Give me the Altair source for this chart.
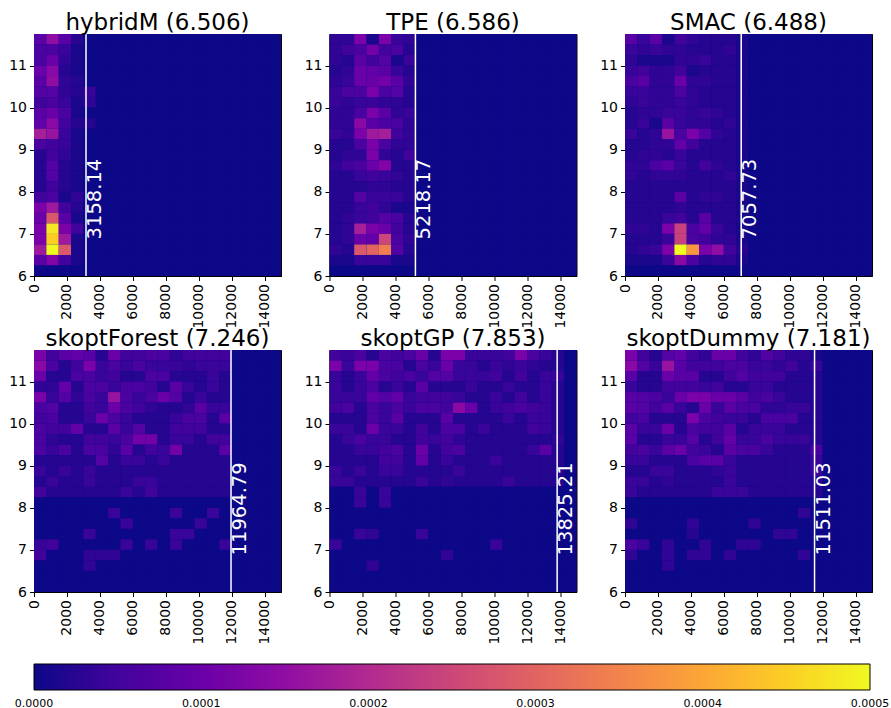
import altair as alt
import pandas as pd

names = ["hybridM", "TPE", "SMAC", "skoptForest", "skoptGP", "skoptDummy"]
scores = ["6.506", "6.586", "6.488", "7.246", "7.853", "7.181"]
cutoffs = [3158.14, 5218.17, 7057.73, 11964.79, 13825.21, 11511.03]

x_ticks = [0, 2000, 4000, 6000, 8000, 10000, 12000, 14000]
y_ticks = [6, 7, 8, 9, 10, 11]
cbar_ticks = [0.0, 0.0001, 0.0002, 0.0003, 0.0004, 0.0005]

x_bin_width = 750
y_bin_height = 0.25
n_cols = 20
y_top = 11.75

# densities in units of 1e-5; rows from top (11.50-11.75) down to bottom (6.00-6.25);
# columns from x=0 in steps of 750 (remaining columns are empty)
hybridM = [
    [8, 15, 8, 2, 0],
    [6, 6, 4, 1, 0],
    [6, 10, 3, 1, 0],
    [10, 14, 2, 1, 0],
    [8, 15, 3, 2, 0],
    [7, 7, 3, 2, 4],
    [5, 6, 4, 1, 3],
    [8, 10, 6, 1, 0],
    [9, 14, 5, 2, 2],
    [18, 16, 4, 1, 0],
    [6, 5, 4, 1, 0],
    [2, 5, 3, 1, 0],
    [2, 7, 2, 1, 0],
    [2, 7, 2, 1, 0],
    [2, 5, 2, 1, 0],
    [5, 6, 1, 3, 0],
    [12, 17, 5, 2, 0],
    [10, 28, 8, 1, 0],
    [12, 48, 12, 5, 0],
    [12, 45, 17, 1, 0],
    [17, 50, 28, 1, 0],
    [8, 13, 5, 1, 0],
    [0, 0, 0, 0, 0],
]

TPE = [
    [3, 3, 12, 1, 12, 4, 3],
    [3, 5, 6, 11, 5, 6, 2],
    [3, 2, 8, 5, 7, 1, 4],
    [2, 3, 10, 9, 8, 4, 2],
    [3, 4, 10, 10, 11, 8, 3],
    [4, 6, 6, 12, 6, 7, 2],
    [4, 3, 4, 4, 3, 3, 2],
    [3, 3, 6, 12, 8, 3, 4],
    [3, 3, 14, 8, 6, 6, 3],
    [4, 3, 12, 17, 18, 5, 3],
    [2, 2, 6, 12, 6, 3, 3],
    [2, 3, 3, 12, 3, 2, 5],
    [3, 5, 6, 10, 13, 2, 2],
    [2, 2, 4, 5, 4, 3, 2],
    [2, 2, 2, 3, 3, 2, 2],
    [2, 2, 7, 4, 4, 4, 2],
    [2, 2, 4, 5, 3, 1, 1],
    [2, 3, 4, 5, 7, 6, 2],
    [2, 3, 18, 12, 10, 5, 2],
    [2, 3, 10, 9, 25, 6, 3],
    [3, 2, 28, 30, 34, 7, 2],
    [1, 1, 4, 4, 4, 1, 1],
    [0, 0, 0, 0, 0, 0, 0],
]

SMAC = [
    [8, 4, 8, 1, 5, 3, 2, 2, 2, 1],
    [4, 3, 4, 3, 3, 2, 2, 2, 3, 1],
    [3, 1, 1, 1, 3, 3, 4, 2, 2, 1],
    [4, 5, 3, 3, 5, 1, 2, 2, 2, 1],
    [6, 8, 3, 3, 10, 3, 3, 2, 2, 1],
    [4, 4, 3, 3, 6, 3, 2, 2, 2, 1],
    [3, 4, 3, 3, 4, 3, 2, 2, 2, 1],
    [2, 3, 3, 4, 4, 3, 4, 3, 2, 1],
    [2, 4, 1, 8, 4, 3, 3, 2, 3, 1],
    [4, 2, 3, 16, 6, 12, 7, 3, 2, 1],
    [2, 2, 3, 3, 9, 5, 2, 2, 2, 1],
    [2, 3, 3, 2, 4, 2, 2, 2, 2, 1],
    [3, 3, 6, 8, 4, 2, 5, 3, 2, 1],
    [3, 2, 3, 3, 3, 2, 2, 2, 3, 1],
    [2, 2, 2, 2, 2, 2, 2, 2, 2, 1],
    [2, 2, 2, 2, 8, 2, 3, 3, 2, 1],
    [2, 2, 2, 2, 3, 2, 2, 2, 2, 1],
    [2, 2, 2, 4, 5, 2, 8, 2, 2, 1],
    [3, 3, 2, 12, 24, 6, 9, 4, 2, 1],
    [2, 2, 2, 4, 24, 6, 5, 3, 3, 1],
    [2, 3, 4, 12, 50, 38, 12, 15, 5, 2],
    [1, 1, 1, 4, 14, 6, 2, 3, 3, 1],
    [0, 0, 0, 0, 0, 0, 0, 0, 0, 0],
]

skoptForest = [
    [12, 5, 8, 9, 8, 2, 10, 5, 5, 6, 6, 3, 5, 5, 5, 5],
    [14, 6, 2, 5, 12, 4, 6, 4, 6, 4, 4, 4, 3, 4, 4, 4],
    [10, 2, 2, 6, 6, 4, 5, 2, 2, 6, 6, 2, 2, 2, 4, 2],
    [3, 3, 9, 2, 6, 6, 4, 6, 6, 5, 2, 8, 4, 2, 4, 2],
    [12, 4, 7, 3, 6, 4, 16, 6, 4, 6, 10, 7, 2, 4, 2, 2],
    [6, 7, 2, 2, 5, 4, 10, 6, 5, 3, 2, 2, 3, 8, 4, 4],
    [5, 6, 2, 2, 4, 10, 6, 4, 2, 2, 2, 4, 6, 6, 2, 8],
    [6, 5, 5, 9, 2, 2, 8, 4, 7, 2, 2, 5, 5, 5, 2, 2],
    [6, 3, 2, 2, 5, 5, 4, 6, 11, 11, 2, 4, 4, 2, 5, 5],
    [6, 4, 6, 2, 6, 6, 3, 8, 2, 5, 4, 11, 2, 2, 2, 8],
    [2, 2, 2, 2, 2, 7, 2, 4, 4, 2, 4, 2, 2, 2, 2, 2],
    [4, 2, 4, 2, 4, 2, 2, 2, 2, 2, 2, 2, 2, 2, 2, 2],
    [2, 4, 2, 2, 4, 2, 2, 2, 4, 4, 2, 2, 2, 2, 2, 2],
    [5, 2, 2, 2, 2, 2, 2, 4, 2, 5, 2, 2, 2, 2, 2, 2],
    [0, 0, 0, 0, 0, 0, 0, 0, 0, 0, 0, 0, 0, 0, 0, 0],
    [0, 0, 0, 0, 0, 0, 4, 0, 0, 0, 0, 4, 0, 0, 4, 0],
    [0, 0, 0, 0, 0, 0, 0, 4, 0, 0, 0, 0, 0, 4, 0, 0],
    [0, 0, 0, 0, 4, 0, 0, 0, 0, 0, 0, 4, 4, 0, 0, 0],
    [4, 5, 0, 0, 0, 0, 0, 4, 0, 4, 0, 4, 0, 0, 0, 4],
    [5, 0, 0, 0, 3, 3, 3, 0, 0, 0, 0, 0, 0, 0, 0, 0],
    [0, 0, 0, 0, 3, 0, 0, 0, 0, 0, 0, 0, 0, 0, 0, 0],
    [0, 0, 0, 0, 0, 0, 0, 0, 0, 0, 0, 0, 0, 0, 0, 0],
    [0, 0, 0, 0, 0, 0, 0, 0, 0, 0, 0, 0, 0, 0, 0, 0],
]

skoptGP = [
    [5, 4, 6, 2, 6, 5, 6, 10, 2, 12, 12, 4, 4, 4, 5, 12, 6, 4, 2],
    [12, 4, 12, 12, 6, 6, 2, 6, 4, 10, 4, 4, 2, 4, 3, 4, 3, 2, 2],
    [4, 2, 4, 9, 6, 5, 6, 4, 7, 7, 4, 4, 4, 5, 2, 5, 2, 4, 4],
    [4, 2, 4, 6, 2, 4, 2, 8, 2, 2, 2, 4, 2, 2, 4, 2, 2, 4, 2],
    [4, 4, 4, 9, 7, 9, 4, 5, 5, 5, 4, 2, 2, 4, 2, 5, 2, 4, 2],
    [5, 6, 2, 6, 4, 6, 4, 6, 6, 5, 14, 10, 2, 4, 5, 6, 5, 4, 2],
    [2, 2, 2, 6, 4, 8, 2, 2, 2, 8, 2, 2, 2, 2, 4, 2, 4, 4, 2],
    [4, 4, 2, 10, 4, 4, 2, 5, 2, 6, 6, 2, 4, 2, 2, 2, 5, 4, 2],
    [2, 4, 6, 4, 4, 2, 2, 5, 4, 5, 3, 2, 2, 2, 2, 2, 2, 2, 3],
    [2, 2, 4, 4, 5, 6, 2, 10, 2, 5, 6, 2, 2, 2, 2, 2, 4, 8, 2],
    [2, 2, 2, 2, 5, 5, 2, 9, 2, 4, 2, 2, 2, 4, 2, 2, 2, 2, 2],
    [4, 2, 4, 2, 4, 4, 2, 2, 2, 2, 4, 2, 2, 2, 2, 2, 2, 2, 2],
    [4, 4, 2, 2, 2, 2, 2, 4, 2, 3, 2, 2, 2, 2, 4, 2, 2, 2, 2],
    [0, 0, 4, 0, 4, 0, 0, 0, 0, 0, 0, 0, 0, 0, 0, 0, 0, 0, 0],
    [0, 0, 4, 0, 4, 0, 0, 0, 0, 0, 0, 0, 0, 0, 0, 0, 0, 0, 0],
    [0, 0, 0, 0, 0, 0, 0, 0, 0, 0, 0, 0, 0, 0, 0, 0, 0, 0, 0],
    [0, 0, 0, 0, 0, 0, 0, 0, 0, 0, 0, 0, 0, 0, 0, 0, 0, 0, 0],
    [0, 0, 4, 3, 0, 0, 0, 4, 0, 0, 0, 0, 0, 0, 0, 0, 0, 0, 0],
    [4, 0, 0, 0, 0, 0, 0, 0, 0, 0, 0, 0, 0, 4, 0, 0, 0, 0, 0],
    [0, 0, 0, 0, 0, 0, 0, 0, 0, 3, 0, 0, 0, 0, 0, 0, 0, 0, 0],
    [0, 0, 0, 3, 0, 0, 0, 0, 0, 0, 0, 0, 0, 0, 0, 0, 0, 0, 0],
    [0, 0, 0, 0, 0, 0, 0, 0, 0, 0, 0, 0, 0, 0, 0, 0, 0, 0, 0],
    [0, 0, 0, 0, 0, 0, 0, 0, 0, 0, 0, 0, 0, 0, 0, 0, 0, 0, 0],
]

skoptDummy = [
    [12, 5, 2, 7, 9, 5, 3, 10, 10, 5, 3, 7, 5, 3, 3, 1],
    [14, 7, 4, 16, 8, 5, 5, 5, 6, 6, 4, 4, 3, 5, 2, 4],
    [8, 2, 2, 10, 8, 8, 2, 2, 5, 7, 5, 5, 5, 2, 2, 2],
    [4, 2, 2, 5, 5, 5, 4, 5, 2, 2, 4, 4, 2, 2, 2, 2],
    [8, 7, 6, 4, 10, 12, 12, 10, 10, 8, 5, 6, 4, 2, 2, 2],
    [8, 7, 5, 8, 4, 2, 10, 4, 8, 6, 6, 3, 3, 4, 4, 2],
    [5, 6, 2, 2, 2, 12, 6, 5, 4, 4, 2, 6, 6, 6, 2, 2],
    [8, 4, 4, 10, 2, 6, 5, 5, 8, 2, 4, 4, 4, 2, 2, 2],
    [8, 2, 2, 4, 4, 7, 2, 5, 9, 4, 4, 6, 4, 4, 4, 2],
    [5, 6, 4, 8, 10, 5, 4, 2, 8, 6, 6, 4, 2, 2, 2, 6],
    [4, 4, 2, 2, 2, 6, 8, 8, 4, 2, 2, 2, 2, 2, 2, 4],
    [2, 2, 4, 4, 2, 2, 2, 3, 4, 2, 2, 2, 2, 2, 2, 4],
    [4, 4, 2, 3, 2, 2, 2, 2, 4, 2, 2, 2, 2, 2, 2, 2],
    [4, 2, 2, 2, 2, 2, 2, 4, 4, 4, 2, 2, 2, 2, 2, 2],
    [0, 0, 0, 0, 0, 0, 0, 0, 0, 0, 0, 0, 0, 0, 0, 0],
    [0, 0, 0, 0, 0, 0, 0, 0, 0, 0, 0, 0, 0, 0, 3, 0],
    [3, 0, 0, 0, 0, 3, 0, 0, 0, 0, 3, 0, 0, 0, 0, 0],
    [0, 0, 0, 0, 0, 2, 0, 0, 0, 0, 0, 0, 3, 3, 0, 0],
    [6, 4, 0, 3, 0, 0, 3, 0, 0, 3, 3, 0, 0, 0, 0, 0],
    [3, 0, 0, 3, 0, 3, 3, 0, 3, 0, 0, 0, 0, 0, 3, 0],
    [0, 0, 0, 3, 0, 0, 0, 0, 0, 0, 0, 0, 0, 0, 0, 0],
    [0, 0, 0, 0, 0, 0, 0, 0, 0, 0, 0, 0, 0, 0, 0, 0],
    [0, 0, 0, 0, 0, 0, 0, 0, 0, 0, 0, 0, 0, 0, 0, 0],
]

grids = [hybridM, TPE, SMAC, skoptForest, skoptGP, skoptDummy]


def cells(grid):
    recs = []
    for i, row in enumerate(grid):
        y0 = y_top - (i + 1) * y_bin_height
        full = list(row) + [0] * (n_cols - len(row))
        for j, v in enumerate(full):
            recs.append({
                "x": j * x_bin_width, "x2": (j + 1) * x_bin_width,
                "y": y0, "y2": y0 + y_bin_height,
                "density": v * 1e-5,
            })
    return pd.DataFrame(recs)


color_scale = alt.Scale(scheme="plasma", domain=[0, 0.0005], clamp=True)
xs = alt.Scale(domain=[0, 15000], nice=False, zero=False)
ys = alt.Scale(domain=[6, 11.75], nice=False, zero=False)
x_axis = alt.Axis(values=x_ticks, labelAngle=270, title=None, grid=False, format="d")
y_axis = alt.Axis(values=y_ticks, title=None, grid=False, format="d")

# end ticks nudged a hair inside the range so that their labels are centred
legend_values = [cbar_ticks[0] + 1e-9] + cbar_ticks[1:-1] + [cbar_ticks[-1] - 1e-9]

legend = alt.Legend(
    type="gradient",
    orient="none", legendX=0, legendY=630, direction="horizontal",
    gradientLength=836, gradientThickness=26, title=None,
    values=legend_values, format=".4f", labelFontSize=11,
    gradientStrokeColor="black", gradientStrokeWidth=1, labelOverlap=False,
    labelOffset=8, labelColor="black",
)


def panel(k):
    df = cells(grids[k])
    heat = alt.Chart(df).mark_rect().encode(
        x=alt.X("x:Q", scale=xs, axis=x_axis),
        x2="x2:Q",
        y=alt.Y("y:Q", scale=ys, axis=y_axis),
        y2="y2:Q",
        color=alt.Color("density:Q", scale=color_scale, legend=legend),
    )
    line = alt.Chart(pd.DataFrame({"x": [cutoffs[k]]})).mark_rule(
        color="white", strokeWidth=1.5
    ).encode(x=alt.X("x:Q", scale=xs, axis=x_axis))
    lab = alt.Chart(pd.DataFrame({
        "x": [cutoffs[k]], "y": [6.87], "t": [f"{cutoffs[k]:.2f}"]
    })).mark_text(
        angle=270, align="left", baseline="top", color="white", fontSize=19.5
    ).encode(
        x=alt.X("x:Q", scale=xs, axis=x_axis),
        y=alt.Y("y:Q", scale=ys, axis=y_axis),
        text="t:N",
    )
    return alt.layer(heat, line, lab).properties(
        width=247, height=242,
        title=alt.Title(f"{names[k]} ({scores[k]})"),
    )


chart = alt.concat(
    *[panel(k) for k in range(6)],
    columns=3,
    spacing=alt.RowColnumber(row=74, column=48.5),
    bounds="flush",
).configure(
    font="DejaVu Sans",
    padding={"left": 8, "top": 11, "right": 0, "bottom": 2},
).configure_view(
    stroke="black", strokeWidth=1, fill="#0d0887"
).configure_axis(
    labelFontSize=14, labelColor="black", tickColor="black", domainColor="black",
    tickSize=4.5, labelPadding=3, grid=False,
).configure_title(
    fontSize=23, fontWeight="normal", color="black", offset=-2, baseline="alphabetic"
)

chart.save("out.html", embed_options={"renderer": "svg", "actions": False})
